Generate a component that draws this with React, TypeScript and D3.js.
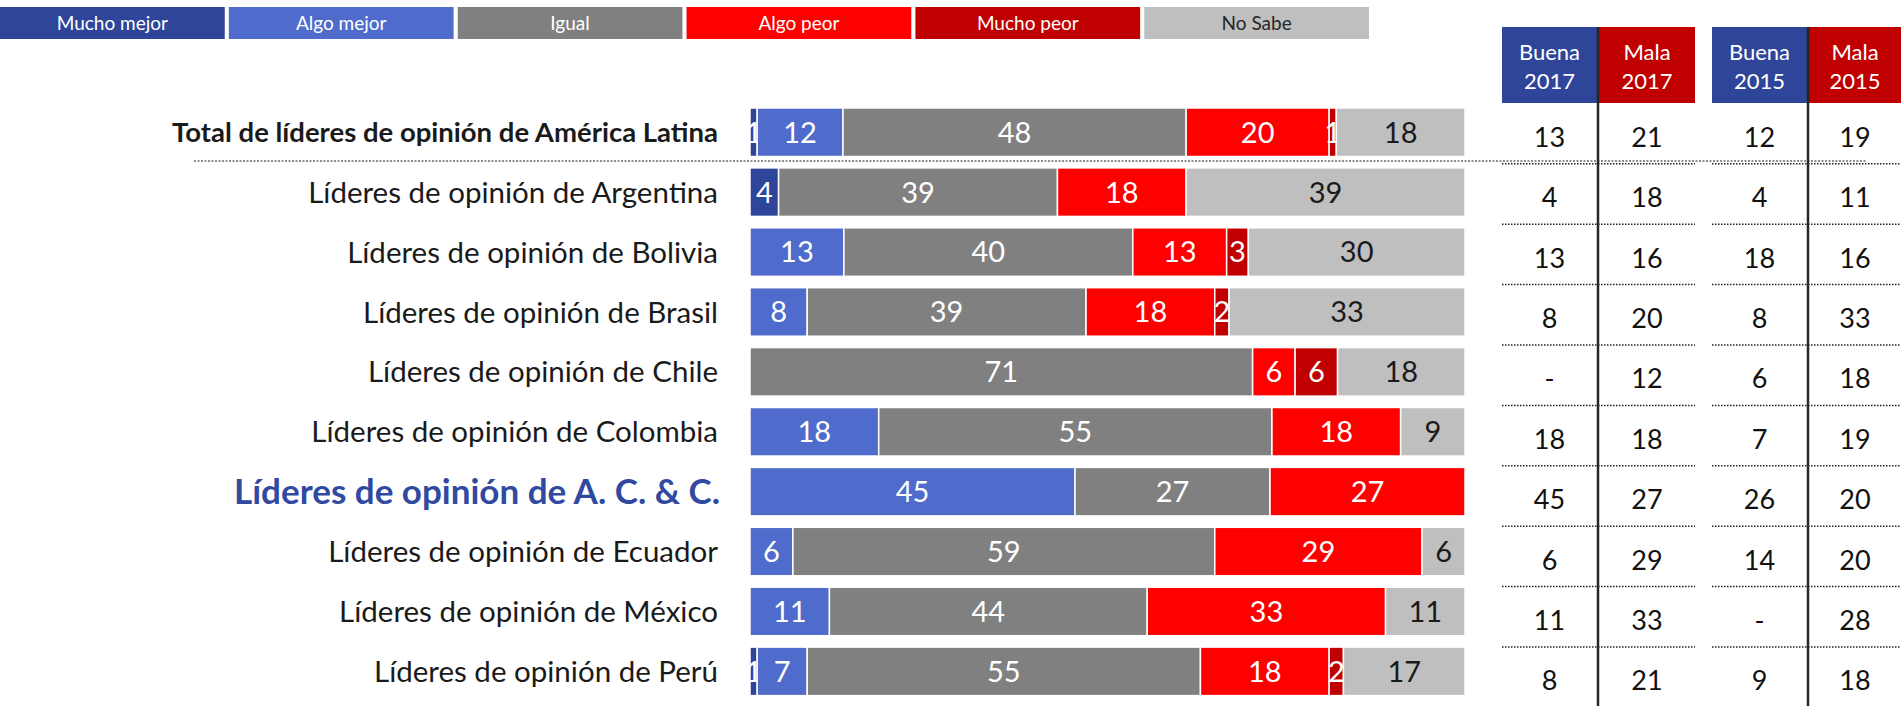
import React from 'react';
import * as d3 from 'd3';

const categories = [
  'Total de líderes de opinión de América Latina',
  'Líderes de opinión de Argentina',
  'Líderes de opinión de Bolivia',
  'Líderes de opinión de Brasil',
  'Líderes de opinión de Chile',
  'Líderes de opinión de Colombia',
  'Líderes de opinión de A. C. & C.',
  'Líderes de opinión de Ecuador',
  'Líderes de opinión de México',
  'Líderes de opinión de Perú',
];

const seriesNames = ['Mucho mejor', 'Algo mejor', 'Igual', 'Algo peor', 'Mucho peor', 'No Sabe'];
const seriesColors = ['#2f4599', '#4f6bcb', '#808080', '#ff0000', '#c00000', '#bfbfbf'];

const muchoMejor = [1, 4, 0, 0, 0, 0, 0, 0, 0, 1];
const algoMejor = [12, 0, 13, 8, 0, 18, 45, 6, 11, 7];
const igual = [48, 39, 40, 39, 71, 55, 27, 59, 44, 55];
const algoPeor = [20, 18, 13, 18, 6, 18, 27, 29, 33, 18];
const muchoPeor = [1, 0, 3, 2, 6, 0, 0, 0, 0, 2];
const noSabe = [18, 39, 30, 33, 18, 9, 0, 6, 11, 17];

const tableHeaders = ['Buena|2017', 'Mala|2017', 'Buena|2015', 'Mala|2015'];
const buena2017 = ['13', '4', '13', '8', '-', '18', '45', '6', '11', '8'];
const mala2017 = ['21', '18', '16', '20', '12', '18', '27', '29', '33', '21'];
const buena2015 = ['12', '4', '18', '8', '6', '7', '26', '14', '-', '9'];
const mala2015 = ['19', '11', '16', '33', '18', '19', '20', '20', '28', '18'];

const W = 1901;
const H = 706;
const FONT = 'Lato, "Open Sans", sans-serif';

export default function App() {
  const series = [muchoMejor, algoMejor, igual, algoPeor, muchoPeor, noSabe];

  const y = d3
    .scaleBand<string>()
    .domain(categories)
    .range([102.3, 701.3])
    .paddingInner(0.19)
    .paddingOuter(0.095);

  const yT = d3.scaleBand<string>().domain(categories).range([106.8, 710.8]);

  // legend boxes
  const legX = d3.scaleBand<string>().domain(seriesNames).range([0, 1369]).paddingInner(0.018);

  // table columns
  const colX = d3
    .scaleOrdinal<string, [number, number]>()
    .domain(tableHeaders)
    .range([
      [1502, 1597],
      [1599, 1695],
      [1712, 1807],
      [1809, 1901],
    ]);
  const tableCols = [buena2017, mala2017, buena2015, mala2015];

  return (
    <svg
      width={W}
      height={H}
      style={{ position: 'absolute', left: 0, top: 0, background: '#fff' }}
      fontFamily={FONT}
    >
      {/* legend */}
      {seriesNames.map((s, i) => (
        <g key={s}>
          <rect x={legX(s)} y={7} width={legX.bandwidth()} height={32} fill={seriesColors[i]} />
          <text
            x={(legX(s) as number) + legX.bandwidth() / 2}
            y={30}
            textAnchor="middle"
            fontSize={19}
            fill={i === 5 ? '#262626' : '#fff'}
          >
            {s}
          </text>
        </g>
      ))}

      {/* dotted line below total */}
      <line x1={194} x2={1867} y1={161} y2={161} stroke="#8c8c8c" strokeWidth={2} strokeDasharray="2,1.5" />

      {/* bars */}
      {categories.map((c, ci) => {
        const total = d3.sum(series, (s) => s[ci]);
        const x = d3.scaleLinear().domain([0, total]).range([750, 1465]);
        let acc = 0;
        const y0 = y(c) as number;
        const isTotal = ci === 0;
        const isACC = ci === 6;
        return (
          <g key={c}>
            <text
              x={isACC ? 720 : 718}
              y={y0 + y.bandwidth() / 2}
              dy="0.36em"
              textAnchor="end"
              fontSize={isACC ? 35 : isTotal ? 27.5 : 29.5}
              fontWeight={isACC || isTotal ? 700 : 400}
              fill={isACC ? '#2f4aa0' : '#1a1a1a'}
            >
              {c}
            </text>
            {series.map((s, si) => {
              const v = s[ci];
              const start = acc;
              acc += v;
              if (v === 0) return null;
              const x0 = x(start);
              const w = x(start + v) - x0;
              return (
                <g key={si}>
                  <rect x={x0} y={y0} width={w} height={y.bandwidth()} fill={seriesColors[si]} stroke="#fff" strokeWidth={1.5} />
                  <text
                    x={x0 + w / 2}
                    y={y0 + y.bandwidth() / 2}
                    dy="0.36em"
                    textAnchor="middle"
                    fontSize={29}
                    fill={si === 5 ? '#1a1a1a' : '#fff'}
                  >
                    {v}
                  </text>
                </g>
              );
            })}
          </g>
        );
      })}

      {/* table headers */}
      {tableHeaders.map((h, i) => {
        const [a, b] = colX(h);
        const [l1, l2] = h.split('|');
        return (
          <g key={h}>
            <rect x={a} y={27} width={b - a} height={76} fill={i % 2 === 0 ? '#2f4599' : '#c00000'} />
            <text x={(a + b) / 2} y={60} textAnchor="middle" fontSize={22} fill="#fff">
              {l1}
            </text>
            <text x={(a + b) / 2} y={89} textAnchor="middle" fontSize={22} fill="#fff">
              {l2}
            </text>
          </g>
        );
      })}

      {/* table values */}
      {categories.map((c, ci) => (
        <g key={c}>
          {tableHeaders.map((h, hi) => {
            const [a, b] = colX(h);
            return (
              <text
                key={h}
                x={(a + b) / 2}
                y={(yT(c) as number) + yT.bandwidth() / 2}
                dy="0.36em"
                textAnchor="middle"
                fontSize={27}
                fill="#111"
              >
                {tableCols[hi][ci]}
              </text>
            );
          })}
          {ci < categories.length - 1 && (
            <g>
              <line
                x1={1502}
                x2={1695}
                y1={(yT(c) as number) + 57}
                y2={(yT(c) as number) + 57}
                stroke="#222"
                strokeWidth={1.5}
                strokeDasharray="1.5,1.5"
              />
              <line
                x1={1712}
                x2={1901}
                y1={(yT(c) as number) + 57}
                y2={(yT(c) as number) + 57}
                stroke="#222"
                strokeWidth={1.5}
                strokeDasharray="1.5,1.5"
              />
            </g>
          )}
        </g>
      ))}

      {/* vertical separators */}
      <line x1={1598} x2={1598} y1={27} y2={H} stroke="#262626" strokeWidth={2.5} />
      <line x1={1808} x2={1808} y1={27} y2={H} stroke="#262626" strokeWidth={2.5} />
    </svg>
  );
}
